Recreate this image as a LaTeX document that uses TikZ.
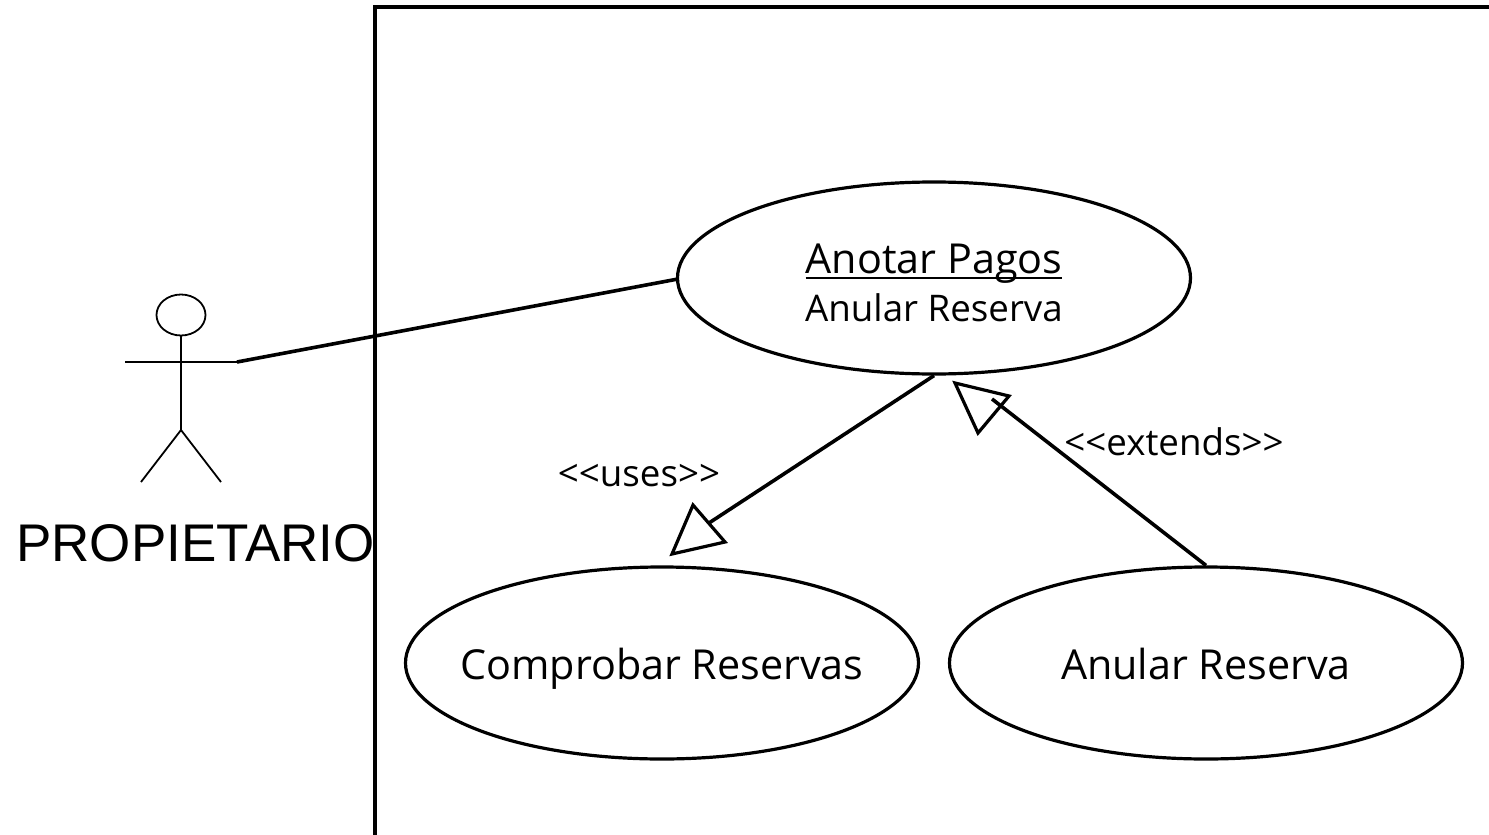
\documentclass[tikz,border=0pt]{standalone}
\usepackage{fontspec}
\setmainfont{Open Sans}
\newfontfamily\actorfont{Liberation Sans}
\usetikzlibrary{positioning, shapes.geometric, calc}
\newcommand{\ulabel}[1]{\setbox0\hbox{#1}\rlap{\rule[-5pt]{\wd0}{2pt}}\box0}

\begin{document}
\begin{tikzpicture}[
    x=1pt, y=-1pt,
    usecase/.style={ellipse, draw=black, line width=3.2pt, inner sep=0pt, minimum width=513pt, minimum height=192pt},
    actorline/.style={draw=black, line width=1.8pt},
    arrow/.style={line width=3.6pt},
    head/.style={line width=3.2pt, line join=miter},
    lbl/.style={inner sep=0pt, text height=27pt, text depth=8pt},
    small/.style={font=\fontsize{36.7}{40}\selectfont},
    large/.style={font=\fontsize{41.3}{46}\selectfont, text height=30pt, text depth=9pt}
]
\useasboundingbox (0,0) rectangle (1489,835);

% System boundary
\coordinate (sysbl) at (375,835);
\coordinate (systl) at (375,7);
\coordinate (systr) at (1489,7);
\draw[arrow] (sysbl) -- (systl) -- (systr);

% Use cases
\node[usecase] (pagos) at (934,278) {};
\node[lbl, large] (pagostxt) at (934,263) {\ulabel{Anotar Pagos}};
\node[lbl, small] (anulartxt) at (934,312) {Anular Reserva};
\node[usecase] (comprobar) at (662,663) {};
\node[lbl, large] (comprobartxt) at (662,669) {Comprobar Reservas};
\node[usecase] (anular) at (1206,663) {};
\node[lbl, large] (anularbtxt) at (1206,669) {Anular Reserva};

% Actor
\node[ellipse, actorline, minimum width=49pt, minimum height=41pt, inner sep=0pt] (actorhead) at (181,315) {};
\coordinate (armL) at (125,362);
\coordinate (armR) at (237,362);
\coordinate (hip) at (181,430);
\coordinate (footL) at (141,482);
\coordinate (footR) at (221,482);
\draw[actorline] (actorhead) -- (hip);
\draw[actorline] (armL) -- (armR);
\draw[actorline] (footL) -- (hip) -- (footR);
\node[lbl, font=\actorfont\fontsize{53}{58}\selectfont, text height=38pt, text depth=1pt] (actor) at (195.5,543) {PROPIETARIO};

% Connections
\coordinate (pagosW) at (678,279);
\draw[arrow] (armR) -- (pagosW);

% uses
\coordinate (usesend) at (709,523);
\coordinate (usesA) at (672,554);
\coordinate (usesB) at (693,505);
\coordinate (usesC) at (725,542);
\draw[arrow] (pagos.south) -- (usesend);
\draw[head] (usesA) -- (usesB) -- (usesC) -- cycle;

% extends
\coordinate (extendsend) at (992,399);
\coordinate (extendsA) at (955,383);
\coordinate (extendsB) at (1009,396);
\coordinate (extendsC) at (978,433);
\draw[arrow] (anular.north) -- (extendsend);
\draw[head] (extendsA) -- (extendsB) -- (extendsC) -- cycle;

% Labels
\node[lbl, small] (uses) at (639,477) {<{}<uses>{}>};
\node[lbl, small] (extends) at (1174,446) {<{}<extends>{}>};
\end{tikzpicture}
\end{document}
